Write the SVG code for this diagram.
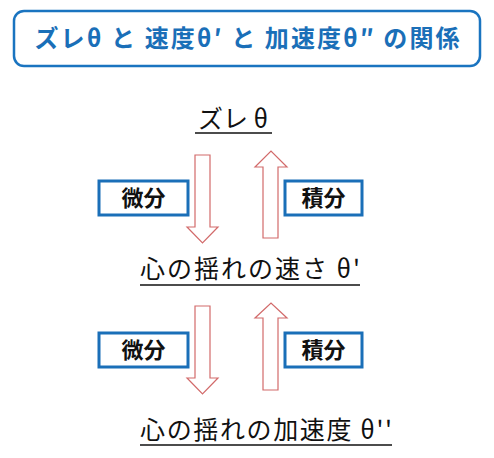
<svg xmlns="http://www.w3.org/2000/svg" width="494" height="458" viewBox="0 0 494 458">
<style>
.title{font-family:"Noto Sans CJK JP","Noto Sans",sans-serif;font-weight:bold;font-size:24px;fill:#1a6fb8}
.lbl{font-family:"Noto Sans CJK JP","Noto Sans",sans-serif;font-size:25px;fill:#111}
.box{fill:#fff;stroke:#1a6fb8;stroke-width:3}
.op{font-family:"Noto Sans CJK JP","Noto Sans",sans-serif;font-weight:bold;font-size:22px;fill:#111}
.arr{fill:#fff;stroke:#d26a6a;stroke-width:1.2}
.ul{stroke:#111;stroke-width:1.5}
</style>
<rect width="494" height="458" fill="#fff"/>
<g id="title">
<rect x="14" y="11" width="466" height="55" rx="10" fill="#fff" stroke="#1a74c0" stroke-width="2.5"/>
<text class="title" x="247" y="47" text-anchor="middle" textLength="425" lengthAdjust="spacing">ズレθ と 速度θ′ と 加速度θ″ の関係</text>
</g>
<g id="n-theta">
<text class="lbl" x="233" y="128" text-anchor="middle">ズレ θ</text>
<line class="ul" x1="195" y1="133" x2="272" y2="133"/>
</g>
<g id="n-vel">
<text class="lbl" x="250" y="278" text-anchor="middle" textLength="220" lengthAdjust="spacing">心の揺れの速さ θ'</text>
<line class="ul" x1="140" y1="285" x2="360" y2="285"/>
</g>
<g id="n-acc">
<text class="lbl" x="266" y="439" text-anchor="middle" textLength="252" lengthAdjust="spacing">心の揺れの加速度 θ''</text>
<line class="ul" x1="140" y1="445" x2="392" y2="445"/>
</g>
<g id="connectors">
<path class="arr" d="M195,155 H210 V227 H218 L202.5,243 L187,227 H195 Z"/>
<path class="arr" d="M263,238 V167 H255 L271,151 L287,167 H278 V238 Z"/>
<path class="arr" d="M195,306 H210 V378 H218 L202.5,394 L187,378 H195 Z"/>
<path class="arr" d="M263,390 V318 H255 L271,303 L287,318 H278 V390 Z"/>
</g>
<g id="op-diff1">
<rect class="box" x="99" y="181" width="89" height="34"/>
<text class="op" x="143.5" y="206" text-anchor="middle">微分</text>
</g>
<g id="op-int1">
<rect class="box" x="285" y="181" width="77" height="34"/>
<text class="op" x="323.5" y="206" text-anchor="middle">積分</text>
</g>
<g id="op-diff2">
<rect class="box" x="99" y="333" width="89" height="34"/>
<text class="op" x="143.5" y="358" text-anchor="middle">微分</text>
</g>
<g id="op-int2">
<rect class="box" x="285" y="333" width="77" height="34"/>
<text class="op" x="323.5" y="358" text-anchor="middle">積分</text>
</g>
</svg>
